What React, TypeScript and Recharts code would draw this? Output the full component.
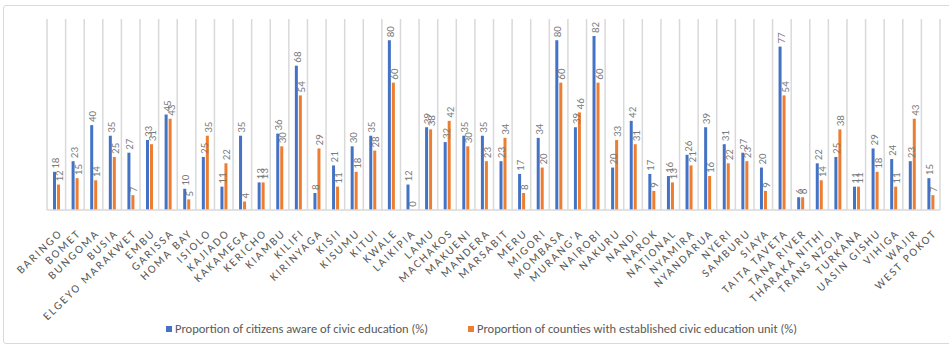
import React from "react";
import { BarChart, Bar, XAxis, YAxis, CartesianGrid, LabelList } from "recharts";

const counties = [
  "BARINGO", "BOMET", "BUNGOMA", "BUSIA", "ELGEYO MARAKWET", "EMBU", "GARISSA", "HOMA BAY",
  "ISIOLO", "KAJIADO", "KAKAMEGA", "KERICHO", "KIAMBU", "KILIFI", "KIRINYAGA", "KISII",
  "KISUMU", "KITUI", "KWALE", "LAIKIPIA", "LAMU", "MACHAKOS", "MAKUENI", "MANDERA",
  "MARSABIT", "MERU", "MIGORI", "MOMBASA", "MURANG'A", "NAIROBI", "NAKURU", "NANDI",
  "NAROK", "NATIONAL", "NYAMIRA", "NYANDARUA", "NYERI", "SAMBURU", "SIAYA", "TAITA TAVETA",
  "TANA RIVER", "THARAKA NITHI", "TRANS NZOIA", "TURKANA", "UASIN GISHU", "VIHIGA", "WAJIR", "WEST POKOT",
];

const citizensAware = [
  18, 23, 40, 35, 27, 33, 45, 10,
  25, 11, 35, 13, 36, 68, 8, 21,
  30, 35, 80, 12, 39, 32, 35, 35,
  23, 17, 34, 80, 39, 82, 20, 42,
  17, 16, 26, 39, 31, 27, 20, 77,
  6, 22, 25, 11, 29, 24, 23, 15,
];

const countiesWithUnit = [
  12, 15, 14, 25, 7, 31, 43, 5,
  35, 22, 4, 13, 30, 54, 29, 11,
  18, 28, 60, 0, 38, 42, 30, 23,
  34, 8, 20, 60, 46, 60, 33, 31,
  9, 13, 21, 16, 22, 23, 9, 54,
  6, 14, 38, 11, 18, 11, 43, 7,
];

const seriesNames = [
  "Proportion of citizens aware of civic education (%)",
  "Proportion of counties with established civic education unit (%)",
];

const BLUE = "#4472C4";
const ORANGE = "#ED7D31";
const GRID = "#D9D9D9";
const TEXT = "#595959";
const FONT = "Carlito, 'Liberation Sans', Arial, sans-serif";

const data = counties.map((name, i) => ({
  name,
  aware: citizensAware[i],
  unit: countiesWithUnit[i],
}));

// vertical value label sitting just above each bar
const VerticalLabel = (props: any) => {
  const { x, y, width, height, value } = props;
  const cx = Number(x) + Number(width) / 2 + 1;
  const top = Math.min(Number(y), Number(y) + Number(height));
  const ty = top - 3;
  return (
    <text
      x={cx}
      y={ty}
      transform={`rotate(-90 ${cx} ${ty})`}
      textAnchor="start"
      dominantBaseline="central"
      fontSize={11}
      fontFamily={FONT}
      fill="#7a7a7a"
    >
      {value}
    </text>
  );
};

const CountyTick = (props: any) => {
  const { x, y, payload } = props;
  return (
    <g transform={`translate(${x + 4},${y + 13}) rotate(-44)`}>
      <text
        textAnchor="end"
        dy="0.35em"
        fontSize={11.5}
        letterSpacing={2}
        fontFamily={FONT}
        fill={TEXT}
      >
        {payload.value}
      </text>
    </g>
  );
};

// grid lines between categories rather than through them
const categoryBounds = ({ offset }: any) => {
  const step = offset.width / counties.length;
  return Array.from({ length: counties.length + 1 }, (_, i) => offset.left + i * step);
};

export default function App() {
  return (
    <div style={{ position: "fixed", left: 0, top: 0, width: 949, height: 346, background: "#fff", overflow: "hidden" }}>
      <div
        style={{
          position: "absolute",
          left: 3,
          top: 5,
          width: 960,
          height: 337,
          border: `1px solid ${GRID}`,
          borderRadius: 3,
        }}
      />
      <BarChart
        width={949}
        height={346}
        data={data}
        margin={{ top: 19, right: 9, left: 47, bottom: 0 }}
        barSize={3}
        barGap={1}
      >
        <CartesianGrid
          horizontal={false}
          stroke={GRID}
          strokeWidth={1.5}
          verticalCoordinatesGenerator={categoryBounds}
        />
        <XAxis
          dataKey="name"
          interval={0}
          height={136}
          tickLine={false}
          axisLine={{ stroke: GRID, strokeWidth: 1.5 }}
          tick={<CountyTick />}
        />
        <YAxis hide domain={[0, 90]} />
        <Bar dataKey="aware" fill={BLUE} isAnimationActive={false}>
          <LabelList dataKey="aware" content={<VerticalLabel />} />
        </Bar>
        <Bar dataKey="unit" fill={ORANGE} minPointSize={0.3} isAnimationActive={false}>
          <LabelList dataKey="unit" content={<VerticalLabel />} />
        </Bar>
      </BarChart>
      <div
        style={{
          position: "absolute",
          left: 7,
          top: 321,
          width: 949,
          display: "flex",
          justifyContent: "center",
          gap: 40,
          fontFamily: FONT,
          fontSize: 12.5,
          color: TEXT,
        }}
      >
        {seriesNames.map((label, i) => (
          <div key={label} style={{ display: "flex", alignItems: "center" }}>
            <span
              style={{
                display: "inline-block",
                width: 6,
                height: 6,
                background: i === 0 ? BLUE : ORANGE,
                marginRight: 3,
              }}
            />
            <span>{label}</span>
          </div>
        ))}
      </div>
    </div>
  );
}
